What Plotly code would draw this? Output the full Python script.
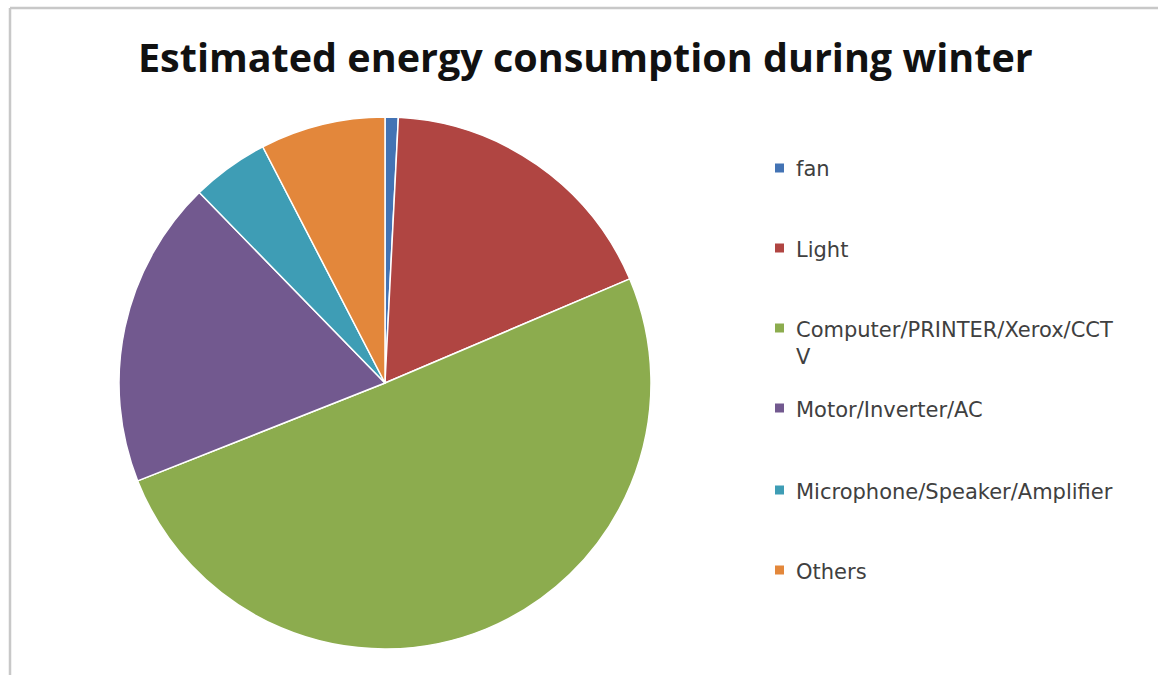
import plotly.graph_objects as go

categories = ["fan", "Light", "Computer/PRINTER/Xerox/CCTV", "Motor/Inverter/AC",
              "Microphone/Speaker/Amplifier", "Others"]
values = [0.8, 17.8, 50.4, 18.7, 4.7, 7.6]
colors = ["#4373B4", "#B04542", "#8CAC4E", "#72598F", "#3E9DB5", "#E3873B"]
legend_text = ["fan", "Light", "Computer/PRINTER/Xerox/CCT<br>V", "Motor/Inverter/AC",
               "Microphone/Speaker/Amplifier", "Others"]

W, H = 1158, 675
cx, cy, r = 385, 383, 266

fig = go.Figure(go.Pie(
    labels=categories, values=values, sort=False, direction="clockwise", rotation=0,
    marker=dict(colors=colors, line=dict(color="white", width=1.5)),
    textinfo="none", hoverinfo="label+value", showlegend=False,
    domain=dict(x=[(cx - r) / W, (cx + r) / W], y=[1 - (cy + r) / H, 1 - (cy - r) / H]),
))

shapes = [
    dict(type="line", xref="paper", yref="paper", x0=10 / W, x1=1, y0=1 - 8 / H, y1=1 - 8 / H,
         line=dict(color="#C8C8C8", width=2.5)),
    dict(type="line", xref="paper", yref="paper", x0=10 / W, x1=10 / W, y0=0, y1=1 - 8 / H,
         line=dict(color="#C8C8C8", width=2.5)),
]
annotations = [dict(text="<b>Estimated energy consumption during winter</b>", x=585 / W, y=1 - 57 / H,
                    xref="paper", yref="paper", xanchor="center", yanchor="middle", showarrow=False,
                    font=dict(family="Open Sans", size=39.5, color="#111111"))]

item_y = [168, 248, 328, 408, 490, 570]
for i, (lab, col) in enumerate(zip(legend_text, colors)):
    y = item_y[i]
    shapes.append(dict(type="rect", xref="paper", yref="paper",
                       x0=775 / W, x1=784 / W, y0=1 - (y + 4.5) / H, y1=1 - (y - 4.5) / H,
                       fillcolor=col, line=dict(width=0)))
    annotations.append(dict(text=lab, x=794 / W, y=1 - (y - 12.5) / H, xref="paper", yref="paper",
                            xanchor="left", yanchor="top", align="left", showarrow=False,
                            font=dict(family="DejaVu Sans", size=21, color="#404040")))

fig.update_layout(width=W, height=H, margin=dict(l=0, r=0, t=0, b=0),
                  paper_bgcolor="white", plot_bgcolor="white",
                  shapes=shapes, annotations=annotations)
fig.write_html("out.html", config={"displayModeBar": False},
               post_script="document.body.style.margin='0';")
